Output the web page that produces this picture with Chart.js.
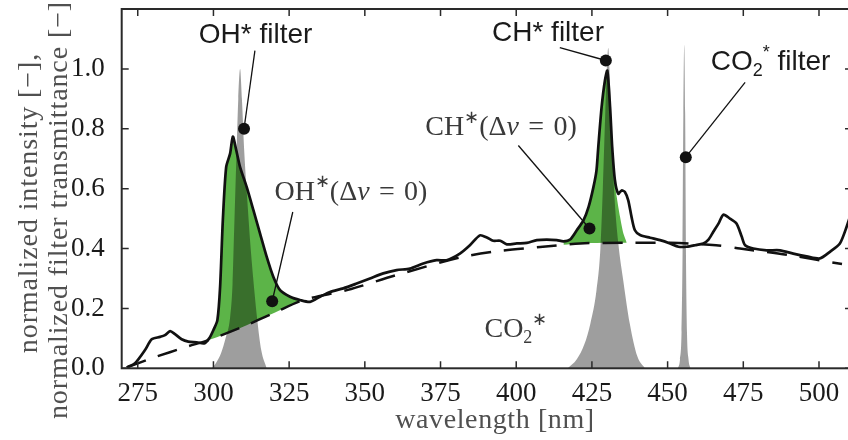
<!DOCTYPE html>
<html>
<head>
<meta charset="utf-8">
<script src="https://cdn.jsdelivr.net/npm/chart.js@4.4.1/dist/chart.umd.min.js"></script>
<style>
  html, body { margin: 0; padding: 0; background: #fff; overflow: hidden; }
  canvas { display: block; }
</style>
</head>
<body>
<canvas id="spectrum" width="852" height="440"></canvas>
<script>
const waveNm = [271.4, 274.1, 277.4, 279.6, 282.4, 284.0, 285.7, 287.3, 289.5, 291.7, 294.5, 296.9, 298.6,
  300.0, 301.3, 302.2, 303.1, 304.2, 305.5, 306.4, 307.5, 308.8, 311.0, 313.2, 315.4, 317.6, 319.8, 322.0,
  325.3, 328.6, 331.9, 335.2, 338.5, 342.9, 347.3, 351.7, 356.1, 360.5, 364.9, 369.3, 373.7, 377.0, 381.4,
  384.7, 388.0, 390.3, 392.4, 394.7, 396.9, 400.2, 403.5, 406.8, 410.1, 413.4, 415.6, 417.8, 420.0, 422.2,
  423.9, 425.5, 426.5, 427.1, 428.2, 429.3, 430.1, 431.0, 431.7, 432.6, 433.7, 434.8, 435.9, 437.0, 438.1,
  439.2, 440.9, 444.2, 447.5, 450.8, 453.6, 456.3, 459.1, 461.8, 463.5, 465.1, 466.8, 468.4, 470.6, 472.8,
  474.5, 475.6, 478.3, 482.7, 487.1, 491.5, 495.9, 500.3, 503.6, 506.9, 509.1, 511.0];
const intensity = [0.003, 0.017, 0.061, 0.097, 0.105, 0.111, 0.124, 0.114, 0.097, 0.089, 0.087, 0.083, 0.100,
  0.128, 0.161, 0.272, 0.494, 0.672, 0.717, 0.774, 0.730, 0.672, 0.605, 0.528, 0.450, 0.372, 0.305, 0.261,
  0.239, 0.228, 0.222, 0.239, 0.255, 0.267, 0.283, 0.300, 0.317, 0.328, 0.333, 0.350, 0.361, 0.361, 0.383,
  0.411, 0.444, 0.437, 0.426, 0.426, 0.414, 0.417, 0.419, 0.428, 0.430, 0.428, 0.424, 0.430, 0.461, 0.494,
  0.539, 0.605, 0.660, 0.739, 0.872, 0.961, 0.994, 0.872, 0.739, 0.628, 0.583, 0.594, 0.589, 0.561, 0.505,
  0.461, 0.445, 0.436, 0.428, 0.417, 0.406, 0.406, 0.411, 0.417, 0.430, 0.456, 0.483, 0.513, 0.500, 0.483,
  0.439, 0.411, 0.400, 0.394, 0.394, 0.383, 0.374, 0.367, 0.389, 0.417, 0.472, 0.530];

// background (dashed)
const baseNm = [271.4, 280, 291.2, 298.6, 310, 320, 329.7, 344.4, 360, 381.4, 393.6, 407.9, 421.1, 436.5, 450.8, 466.0, 473.9, 490, 507.6];
const baseVal = [0.003, 0.035, 0.072, 0.095, 0.14, 0.185, 0.228, 0.262, 0.31, 0.37, 0.391, 0.405, 0.417, 0.419, 0.419, 0.411, 0.400, 0.378, 0.348];

// filter transmittance curves
const ohFilterNm = [299.5, 301, 302.5, 304, 305.5, 306.3, 306.8, 307.5, 308.2, 308.8, 309.4, 310.2, 311.2, 312.3, 313.5, 314.5, 315.8, 317.6];
const ohFilterT = [0, 0.02, 0.05, 0.1, 0.17, 0.28, 0.45, 0.68, 0.9, 1.0, 0.9, 0.72, 0.56, 0.4, 0.26, 0.16, 0.06, 0];
const chFilterNm = [417, 420, 422.5, 424.5, 426.5, 427.8, 428.6, 429.4, 430.0, 430.4, 430.8, 431.4, 432.3, 433.7, 435.4, 437.5, 440, 442.5];
const chFilterT = [0, 0.03, 0.08, 0.15, 0.26, 0.40, 0.60, 0.85, 1.02, 1.07, 1.0, 0.82, 0.6, 0.42, 0.29, 0.15, 0.04, 0];
const co2FilterNm = [453.4, 454.1, 454.6, 454.95, 455.2, 455.5, 455.8, 456.05, 456.4, 456.9, 457.6];
const co2FilterT = [0, 0.03, 0.12, 0.4, 0.85, 1.08, 0.85, 0.4, 0.12, 0.03, 0];

// CH*(dv=0) band falls off before the shoulder at 435 nm
const chTailNm = [431.0, 431.7, 432.3, 433.2, 434.3, 435.4, 436.5];
const chTailVal = [0.872, 0.739, 0.64, 0.572, 0.505, 0.45, 0.42];

const xTicks = [275, 300, 325, 350, 375, 400, 425, 450, 475, 500];
const yTicks = [0.0, 0.2, 0.4, 0.6, 0.8, 1.0];

// marker points for the labels
const markerNm = [310.1, 319.4, 429.6, 424.2, 456.0];
const markerVal = [0.80, 0.224, 1.028, 0.467, 0.705];

const pts = (xs, ys) => xs.map((x, i) => ({x: x, y: ys[i]}));

const spectrum = pts(waveNm, intensity);
const ohBand = spectrum.filter(p => p.x >= 298.6 && p.x <= 328.6);
const chBand = spectrum.filter(p => p.x >= 415.6 && p.x <= 430.1).concat(pts(chTailNm, chTailVal));

const serif = '"Liberation Serif", "Times New Roman", serif';
const sans = '"Liberation Sans", Arial, sans-serif';

const band = (mol) => [{t: mol}, {t: '∗', s: 'sup'}, {t: '(Δ'}, {t: 'v', i: true}, {t: '\u2004=\u20040)'}];

// label layout: marker index, leader line end, text centre (data units)
const notes = [
  {m: 0, lx: 313.7, ly: 1.061, tx: 313.9, ty: 1.111, font: 'sans', parts: [{t: 'OH* filter'}]},
  {m: 1, lx: 326.2, ly: 0.522, tx: 345.4, ty: 0.588, font: 'serif', parts: band('OH')},
  {m: 2, lx: 414.4, ly: 1.071, tx: 410.5, ty: 1.118, font: 'sans', parts: [{t: 'CH* filter'}]},
  {m: 3, lx: 400.7, ly: 0.744, tx: 395.0, ty: 0.804, font: 'serif', parts: band('CH')},
  {m: 4, lx: 475.6, ly: 0.955, tx: 484.0, ty: 1.021, font: 'sans',
    parts: [{t: 'CO'}, {t: '2', s: 'sub'}, {t: '*', s: 'sup'}, {t: ' filter'}]},
  {m: -1, tx: 399.9, ty: 0.128, font: 'serif', parts: [{t: 'CO'}, {t: '2', s: 'sub'}, {t: '∗', s: 'sup'}]}
];

function richText(ctx, parts, cx, cy, size, family, color) {
  const fontOf = p => (p.i ? 'italic ' : '') + (p.s ? Math.round(size * 0.64) : size) + 'px ' + family;
  let w = 0;
  parts.forEach(p => { ctx.font = fontOf(p); p.w = ctx.measureText(p.t).width; w += p.w; });
  let x = cx - w / 2;
  ctx.textAlign = 'left';
  ctx.textBaseline = 'middle';
  ctx.fillStyle = color;
  parts.forEach(p => {
    ctx.font = fontOf(p);
    const dy = p.s === 'sup' ? -size * 0.34 : p.s === 'sub' ? size * 0.3 : 0;
    ctx.fillText(p.t, x, cy + dy);
    x += p.w;
  });
}

const framePlugin = {
  id: 'frame',
  afterDatasetsDraw(chart) {
    const {ctx, chartArea: a, scales: {x, y}} = chart;
    ctx.save();
    ctx.strokeStyle = '#2a2a2a';
    ctx.lineWidth = 2;
    ctx.strokeRect(a.left, a.top, a.right - a.left, a.bottom - a.top);
    ctx.lineWidth = 1.5;
    ctx.beginPath();
    xTicks.forEach(t => {
      const px = x.getPixelForValue(t);
      ctx.moveTo(px, a.bottom); ctx.lineTo(px, a.bottom - 7);
      ctx.moveTo(px, a.top); ctx.lineTo(px, a.top + 7);
    });
    yTicks.forEach(t => {
      const py = y.getPixelForValue(t);
      ctx.moveTo(a.left, py); ctx.lineTo(a.left + 7, py);
      ctx.moveTo(a.right, py); ctx.lineTo(a.right - 7, py);
    });
    ctx.stroke();
    ctx.restore();
  }
};

const notesPlugin = {
  id: 'notes',
  afterDatasetsDraw(chart) {
    const {ctx, scales: {x, y}} = chart;
    ctx.save();
    notes.forEach(n => {
      if (n.m >= 0) {
        const mx = x.getPixelForValue(markerNm[n.m]);
        const my = y.getPixelForValue(markerVal[n.m]);
        ctx.strokeStyle = '#111';
        ctx.lineWidth = 1.3;
        ctx.beginPath();
        ctx.moveTo(mx, my);
        ctx.lineTo(x.getPixelForValue(n.lx), y.getPixelForValue(n.ly));
        ctx.stroke();
        ctx.fillStyle = '#111';
        ctx.beginPath();
        ctx.arc(mx, my, 6, 0, Math.PI * 2);
        ctx.fill();
      }
      if (n.font === 'sans') {
        richText(ctx, n.parts, x.getPixelForValue(n.tx), y.getPixelForValue(n.ty), 28, sans, '#1a1a1a');
      } else {
        richText(ctx, n.parts, x.getPixelForValue(n.tx), y.getPixelForValue(n.ty), 28, serif, '#3a3a3a');
      }
    });

    // axis titles
    ctx.fillStyle = '#505050';
    ctx.font = '28px ' + serif;
    ctx.letterSpacing = '0.9px';
    ctx.textAlign = 'center';
    ctx.textBaseline = 'alphabetic';
    ctx.save();
    ctx.translate(37, 203);
    ctx.rotate(-Math.PI / 2);
    ctx.fillText('normalized intensity [−],', 0, 0);
    ctx.restore();
    ctx.save();
    ctx.translate(67, 210);
    ctx.rotate(-Math.PI / 2);
    ctx.fillText('normalized filter transmittance [−]', 0, 0);
    ctx.restore();
    ctx.letterSpacing = '0.6px';
    ctx.fillText('wavelength [nm]', 495, 428);
    ctx.restore();
  }
};

const gray = 'rgba(0, 0, 0, 0.38)';
const green = 'rgb(92, 180, 72)';

new Chart(document.getElementById('spectrum'), {
  type: 'line',
  data: {
    datasets: [
      {data: spectrum, borderColor: '#111', borderWidth: 2.7, pointRadius: 0, fill: false,
        tension: 0.25, order: 1},
      {data: pts(baseNm, baseVal), borderColor: '#111', borderWidth: 2.5, borderDash: [20, 13],
        pointRadius: 0, fill: false, tension: 0.3, order: 2},
      {data: pts(ohFilterNm, ohFilterT), borderWidth: 0, backgroundColor: gray, pointRadius: 0,
        fill: 'origin', cubicInterpolationMode: 'monotone', order: 3},
      {data: pts(chFilterNm, chFilterT), borderWidth: 0, backgroundColor: gray, pointRadius: 0,
        fill: 'origin', cubicInterpolationMode: 'monotone', order: 3},
      {data: pts(co2FilterNm, co2FilterT), borderWidth: 0, backgroundColor: gray, pointRadius: 0,
        fill: 'origin', cubicInterpolationMode: 'monotone', order: 3},
      {data: ohBand, borderWidth: 0, backgroundColor: green, pointRadius: 0, fill: 1, tension: 0.25, order: 5},
      {data: chBand, borderWidth: 0, backgroundColor: green, pointRadius: 0, fill: 1, tension: 0.25, order: 5}
    ]
  },
  options: {
    responsive: false,
    animation: false,
    devicePixelRatio: 1,
    layout: {padding: {top: 9, left: 0, right: 0, bottom: 0}},
    plugins: {legend: {display: false}, tooltip: {enabled: false}},
    scales: {
      x: {
        type: 'linear', min: 269.7, max: 510.9,
        afterBuildTicks: s => { s.ticks = xTicks.map(v => ({value: v})); },
        afterFit: s => { s.height = 71.7; s.paddingLeft = 0; s.paddingRight = 0; },
        grid: {display: false}, border: {display: false},
        ticks: {color: '#1a1a1a', font: {family: serif, size: 27}, padding: 1, maxRotation: 0}
      },
      y: {
        min: 0, max: 1.2,
        afterBuildTicks: s => { s.ticks = yTicks.map(v => ({value: v})); },
        afterFit: s => { s.width = 121.7; s.paddingTop = 0; s.paddingBottom = 0; },
        grid: {display: false}, border: {display: false},
        ticks: {color: '#1a1a1a', font: {family: serif, size: 27}, padding: 9,
          callback: v => v.toFixed(1)}
      }
    }
  },
  plugins: [framePlugin, notesPlugin]
});
</script>
</body>
</html>
